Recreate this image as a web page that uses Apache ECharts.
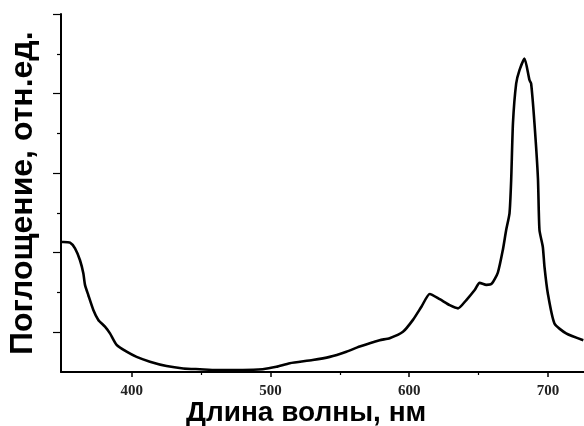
<!DOCTYPE html>
<html>
<head>
<meta charset="utf-8">
<script src="https://cdn.jsdelivr.net/npm/echarts@6/dist/echarts.min.js"></script>
<style>
  html, body { margin: 0; padding: 0; background: #fff; }
  #chart { width: 584px; height: 426px; }
</style>
</head>
<body>
<div id="chart"></div>
<script>
// Absorption spectrum: wavelength (nm) vs absorbance (arb. units)
const wavelengths = [
  349, 350.7, 355.5, 359.1, 362.7, 365.1, 366.3, 368.7, 372.3, 375.9, 380.7, 384.3, 389.1,
  396.3, 403.5, 413.1, 425.1, 437.1, 449.1, 461.1, 480, 494.4, 504.3, 513.9, 530.4, 542.7,
  554.7, 564.3, 578.7, 585.9, 595.5, 602.7, 608.8, 614.8, 622, 629.2, 635.2, 641.2, 647.2,
  650.8, 655.6, 659.5, 663.9, 667.5, 669.9, 672.3, 673.5, 674.8, 677.1, 679.5,
  683.1, 686.7, 687.9, 690.3, 692.8, 693.9, 696.3, 697.5, 699.9, 704.7, 713.1, 725.5
];
const absorbance = [
  3.27, 3.27, 3.25, 3.11, 2.81, 2.48, 2.19, 1.93, 1.56, 1.31, 1.14, 0.97, 0.68,
  0.51, 0.38, 0.26, 0.15, 0.09, 0.07, 0.05, 0.05, 0.07, 0.13, 0.22, 0.30, 0.38,
  0.51, 0.64, 0.80, 0.85, 1.01, 1.31, 1.64, 1.96, 1.83, 1.68, 1.60, 1.81, 2.06,
  2.24, 2.19, 2.22, 2.50, 3.07, 3.57, 3.99, 4.82, 6.26, 7.25, 7.59,
  7.88, 7.34, 7.25, 6.25, 4.87, 3.57, 3.15, 2.65, 1.98, 1.22, 0.97, 0.80
];
const xMajorTicks = [400, 500, 600, 700];
const xMinorTicks = [450, 550, 650];
const yLongTicks = [1, 3, 5, 7, 9];
const yShortTicks = [2, 4, 6, 8];
const xTitle = 'Длина волны, нм';
const yTitle = 'Поглощение, отн.ед.';

const X_MIN = 349, X_MAX = 726, Y_MIN = 0, Y_MAX = 9;

const chart = echarts.init(document.getElementById('chart'), null, { renderer: 'canvas' });

const axisLine = { show: true, onZero: false, lineStyle: { color: '#000', width: 2 } };

chart.setOption({
  animation: false,
  backgroundColor: '#fff',
  grid: { left: 61, right: 0, top: 14, bottom: 54, containLabel: false },
  xAxis: [
    {
      type: 'value', min: X_MIN, max: X_MAX, position: 'bottom',
      axisLine: axisLine,
      splitLine: { show: false },
      axisTick: { show: true, inside: false, length: 5, customValues: xMajorTicks,
                  lineStyle: { color: '#000', width: 1.5 } },
      axisLabel: { show: true, customValues: xMajorTicks, margin: 12, color: '#222',
                   fontFamily: 'Liberation Serif, DejaVu Serif, serif', fontWeight: 'bold', fontSize: 15 }
    },
    {
      type: 'value', min: X_MIN, max: X_MAX, position: 'bottom', offset: 0,
      axisLine: { show: false },
      splitLine: { show: false },
      axisTick: { show: true, inside: false, length: 3, customValues: xMinorTicks,
                  lineStyle: { color: '#000', width: 1.2 } },
      axisLabel: { show: false }
    }
  ],
  yAxis: [
    {
      type: 'value', min: Y_MIN, max: Y_MAX, position: 'left',
      axisLine: axisLine,
      splitLine: { show: false },
      axisTick: { show: true, inside: false, length: 8, customValues: yLongTicks,
                  lineStyle: { color: '#000', width: 1.2 } },
      axisLabel: { show: false }
    },
    {
      type: 'value', min: Y_MIN, max: Y_MAX, position: 'left', offset: 0,
      axisLine: { show: false },
      splitLine: { show: false },
      axisTick: { show: true, inside: false, length: 4, customValues: yShortTicks,
                  lineStyle: { color: '#000', width: 1.2 } },
      axisLabel: { show: false }
    }
  ],
  graphic: [
    {
      type: 'text', left: 186, top: 399,
      style: { text: xTitle, fill: '#000', font: 'bold 28px "Liberation Sans", Arial, sans-serif' }
    },
    {
      type: 'text', x: 7, y: 355, rotation: Math.PI / 2,
      style: { text: yTitle, fill: '#000', font: 'bold 32px "Liberation Sans", Arial, sans-serif',
               align: 'left', verticalAlign: 'top' }
    }
  ],
  series: [
    {
      type: 'line',
      xAxisIndex: 0, yAxisIndex: 0,
      data: wavelengths.map((w, i) => [w, absorbance[i]]),
      showSymbol: false,
      smooth: 0.2,
      lineStyle: { color: '#000', width: 2.6 },
      clip: true
    }
  ]
});
</script>
</body>
</html>
